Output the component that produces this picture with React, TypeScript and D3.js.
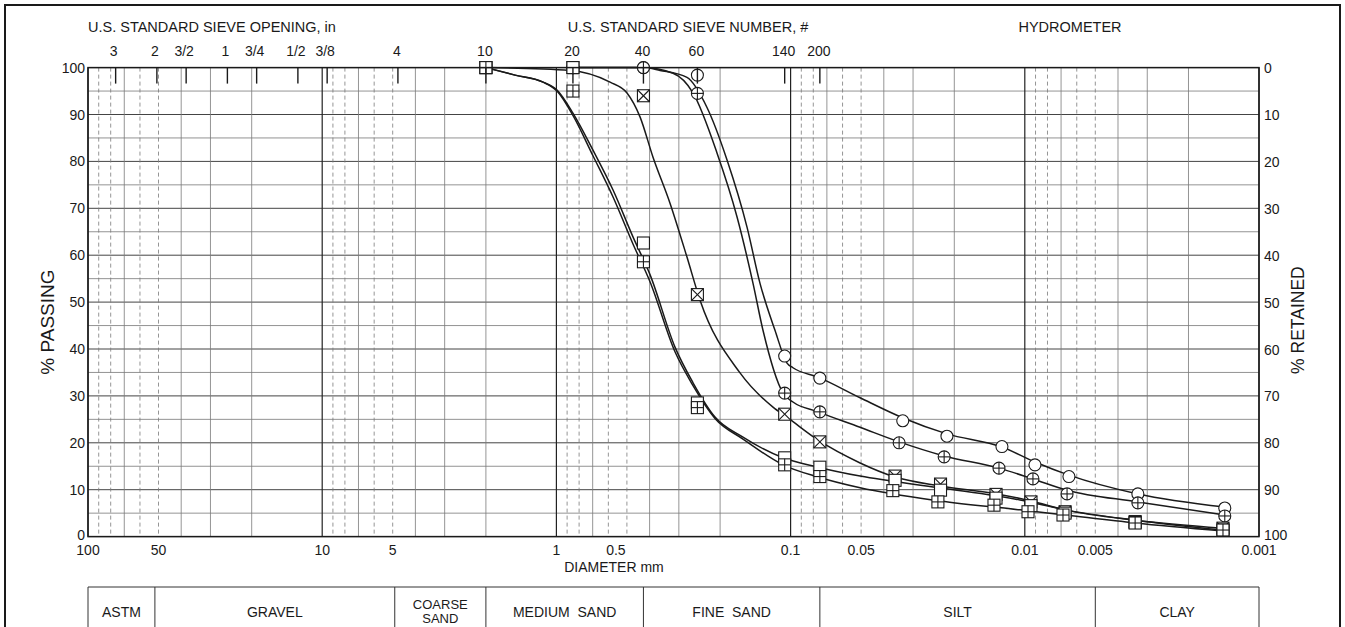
import React from "react";
import * as d3 from "d3";

// ---------- layout ----------
const W = 1345;
const H = 627;
const PL = 88, PR = 1259, PT = 67.6, PB = 536.6;
const FONT = "'Liberation Sans', Arial, Helvetica, sans-serif";

// ---------- axis data ----------
const sieveInchLabels = ["3", "2", "3/2", "1", "3/4", "1/2", "3/8"];
const sieveInchMm = [76.2, 50.8, 38.1, 25.4, 19.05, 12.7, 9.525];
const sieveNumLabels = ["4", "10", "20", "40", "60", "140", "200"];
const sieveNumMm = [4.75, 2.0, 0.85, 0.425, 0.25, 0.106, 0.075];

const diameterTicks = [100, 50, 10, 5, 1, 0.5, 0.1, 0.05, 0.01, 0.005, 0.001];
const diameterTickLabels = ["100", "50", "10", "5", "1", "0.5", "0.1", "0.05", "0.01", "0.005", "0.001"];
const passingTicks = [0, 10, 20, 30, 40, 50, 60, 70, 80, 90, 100];

const classBounds = [100, 51.8, 4.9, 2.0, 0.425, 0.075, 0.005, 0.001];
const classNames = [["ASTM"], ["GRAVEL"], ["COARSE", "SAND"], ["MEDIUM  SAND"], ["FINE  SAND"], ["SILT"], ["CLAY"]];

// ---------- series: measured points ----------
const circleDiam = [0.85, 0.425, 0.25, 0.106, 0.075, 0.0332, 0.0215, 0.01252, 0.00905, 0.00648, 0.00329, 0.0014];
const circlePass = [100, 100, 98.4, 38.5, 33.8, 24.7, 21.4, 19.2, 15.3, 12.8, 9.1, 6.1];

const circlePlusDiam = [0.85, 0.425, 0.25, 0.106, 0.075, 0.0344, 0.0221, 0.01289, 0.00923, 0.0066, 0.00329, 0.0014];
const circlePlusPass = [100, 100, 94.5, 30.6, 26.6, 20.0, 17.0, 14.6, 12.3, 9.1, 7.2, 4.4];

const boxXDiam = [2.0, 0.85, 0.425, 0.25, 0.106, 0.075, 0.0358, 0.0229, 0.01327, 0.00941, 0.00673, 0.00338, 0.001425];
const boxXPass = [100, 100, 94.0, 51.6, 26.1, 20.2, 12.9, 11.2, 9.0, 7.4, 5.3, 3.2, 1.8];

const boxDiam = [2.0, 0.85, 0.425, 0.25, 0.106, 0.075, 0.0358, 0.0229, 0.01327, 0.00941, 0.00673, 0.00338, 0.001425];
const boxPass = [100, 100, 62.6, 28.5, 16.8, 14.8, 12.0, 9.9, 8.2, 6.6, 5.0, 3.0, 1.4];

const boxPlusDiam = [2.0, 0.85, 0.425, 0.25, 0.106, 0.075, 0.0366, 0.0235, 0.01354, 0.00969, 0.00687, 0.00338, 0.001425];
const boxPlusPass = [100, 95.0, 58.6, 27.5, 15.3, 12.8, 9.8, 7.4, 6.7, 5.3, 4.6, 2.9, 1.4];

// ---------- series: fitted gradation curves ----------
const circleFitDiam = [0.85, 0.425, 0.361, 0.277, 0.2275, 0.1868, 0.1535, 0.1351, 0.1166, 0.1036, 0.0977, 0.0764, 0.0505, 0.0331, 0.0215, 0.01252, 0.00905, 0.00648, 0.00329, 0.0014];
const circleFitPass = [100, 100, 99.4, 97.9, 91.5, 80.3, 66.0, 54.0, 44.0, 37.0, 36.0, 34.0, 29.6, 25.3, 21.9, 19.1, 15.9, 13.1, 9.1, 6.3];

const circlePlusFitDiam = [0.85, 0.425, 0.3177, 0.261, 0.2062, 0.1694, 0.1447, 0.1312, 0.1077, 0.0977, 0.0764, 0.0505, 0.0344, 0.0221, 0.01289, 0.00923, 0.0066, 0.00329, 0.0014];
const circlePlusFitPass = [100, 100, 98.8, 94.6, 81.8, 68.2, 54.0, 44.0, 30.6, 28.7, 26.6, 23.3, 20.2, 17.2, 14.6, 12.3, 9.9, 7.4, 4.6];

const boxXFitDiam = [2.0, 0.875, 0.59, 0.4995, 0.4395, 0.3868, 0.3273, 0.277, 0.2436, 0.1644, 0.1189, 0.1026, 0.0764, 0.0505, 0.0358, 0.023, 0.01315, 0.00941, 0.00673, 0.00338, 0.001425];
const boxXFitPass = [100, 99.4, 96.9, 94.6, 89.5, 80.9, 71.1, 59.6, 50.4, 34.9, 27.6, 25.3, 20.6, 15.7, 12.7, 10.8, 9.1, 7.6, 5.7, 3.5, 1.8];

const boxFitDiam = [2.0, 1.502, 1.14, 0.994, 0.85, 0.698, 0.573, 0.471, 0.398, 0.3116, 0.261, 0.2103, 0.1597, 0.1077, 0.0764, 0.0505, 0.023, 0.01048, 0.00673, 0.00338, 0.001425];
const boxFitPass = [100, 98.4, 96.9, 95.2, 90.3, 82.4, 73.9, 63.9, 55.8, 40.4, 32.8, 25.5, 21.2, 16.8, 14.8, 12.9, 10.4, 7.8, 5.7, 3.5, 1.4];

const boxPlusFitDiam = [2.0, 1.502, 1.14, 0.994, 0.85, 0.698, 0.573, 0.471, 0.398, 0.3116, 0.261, 0.2103, 0.1597, 0.1077, 0.0764, 0.0505, 0.023, 0.01048, 0.00673, 0.00338, 0.001425];
const boxPlusFitPass = [100, 98.4, 96.9, 95.0, 89.8, 81.2, 72.4, 62.4, 54.3, 39.4, 32.2, 25.2, 20.8, 15.3, 12.7, 10.4, 7.6, 5.7, 4.6, 2.9, 1.2];

type Kind = "circle" | "circlePlus" | "boxX" | "box" | "boxPlus";
const seriesList: { kind: Kind; diam: number[]; pass: number[]; fitDiam: number[]; fitPass: number[] }[] = [
  { kind: "circle", diam: circleDiam, pass: circlePass, fitDiam: circleFitDiam, fitPass: circleFitPass },
  { kind: "circlePlus", diam: circlePlusDiam, pass: circlePlusPass, fitDiam: circlePlusFitDiam, fitPass: circlePlusFitPass },
  { kind: "boxX", diam: boxXDiam, pass: boxXPass, fitDiam: boxXFitDiam, fitPass: boxXFitPass },
  { kind: "box", diam: boxDiam, pass: boxPass, fitDiam: boxFitDiam, fitPass: boxFitPass },
  { kind: "boxPlus", diam: boxPlusDiam, pass: boxPlusPass, fitDiam: boxPlusFitDiam, fitPass: boxPlusFitPass },
];

const INK = "#1a1a1a";

function Marker({ kind, cx, cy }: { kind: Kind; cx: number; cy: number }) {
  const r = 6;
  const s = 6;
  const st = { stroke: INK, strokeWidth: 1.1, fill: "#fff" };
  if (kind === "circle") return <circle cx={cx} cy={cy} r={r} {...st} />;
  if (kind === "circlePlus")
    return (
      <g {...st}>
        <circle cx={cx} cy={cy} r={r} />
        <line x1={cx - r} x2={cx + r} y1={cy} y2={cy} />
        <line x1={cx} x2={cx} y1={cy - r} y2={cy + r} />
      </g>
    );
  const rect = <rect x={cx - s} y={cy - s} width={2 * s} height={2 * s} />;
  if (kind === "box") return <g {...st}>{rect}</g>;
  if (kind === "boxX")
    return (
      <g {...st}>
        {rect}
        <line x1={cx - s} y1={cy - s} x2={cx + s} y2={cy + s} />
        <line x1={cx - s} y1={cy + s} x2={cx + s} y2={cy - s} />
      </g>
    );
  return (
    <g {...st}>
      {rect}
      <line x1={cx - s} x2={cx + s} y1={cy} y2={cy} />
      <line x1={cx} x2={cx} y1={cy - s} y2={cy + s} />
    </g>
  );
}

export default function App() {
  const x = d3.scaleLog().domain([100, 0.001]).range([PL, PR]);
  const y = d3.scaleLinear().domain([0, 100]).range([PB, PT]);

  const vTicks = x.ticks();
  const mant = (v: number) => Math.round(v / Math.pow(10, Math.floor(Math.log10(v) + 1e-9)));
  const hTicks = y.ticks(20);

  const line = d3
    .line<[number, number]>()
    .x((d) => x(d[0]))
    .y((d) => y(d[1]))
    .curve(d3.curveMonotoneX);

  const tableTop = 587;
  const tableBottom = 645;

  return (
    <svg
      width={W}
      height={H}
      style={{ position: "absolute", left: 0, top: 0, background: "#fff", fontFamily: FONT }}
    >
      <rect x={0} y={0} width={W} height={H} fill="#fff" />
      {/* outer frame */}
      <rect x={5} y={5} width={1335} height={650} fill="none" stroke={INK} strokeWidth={2} />

      {/* titles */}
      <g fontSize={14.5} fill={INK}>
        <text x={PL} y={32}>U.S. STANDARD SIEVE OPENING, in</text>
        <text x={688} y={32} textAnchor="middle">U.S. STANDARD SIEVE NUMBER, #</text>
        <text x={1070} y={32} textAnchor="middle">HYDROMETER</text>
      </g>

      {/* horizontal grid */}
      {hTicks.map((t) => (
        <line
          key={"h" + t}
          x1={PL}
          x2={PR}
          y1={y(t)}
          y2={y(t)}
          stroke={t % 10 === 0 ? "#444" : "#777"}
          strokeWidth={t % 10 === 0 ? 1 : 0.8}
        />
      ))}
      {/* vertical grid */}
      {vTicks.map((t) => {
        const m = mant(t);
        const decade = m === 1 || m === 10;
        const dashed = [5, 6, 8, 9].includes(m);
        return (
          <line
            key={"v" + t}
            x1={x(t)}
            x2={x(t)}
            y1={PT}
            y2={PB}
            stroke={decade ? "#222" : "#7a7a7a"}
            strokeWidth={decade ? 1.2 : 0.8}
            strokeDasharray={dashed ? "4,3" : undefined}
          />
        );
      })}

      {/* fitted curves */}
      {seriesList.map((s, i) => (
        <path
          key={"c" + i}
          d={line(s.fitDiam.map((d, j) => [d, s.fitPass[j]] as [number, number])) || ""}
          fill="none"
          stroke={INK}
          strokeWidth={1.5}
        />
      ))}

      {/* markers */}
      {seriesList.map((s, i) => (
        <g key={"m" + i}>
          {s.diam.map((d, j) => (
            <Marker key={j} kind={s.kind} cx={x(d)} cy={y(s.pass[j])} />
          ))}
        </g>
      ))}

      {/* sieve ticks at top */}
      {[...sieveInchMm, ...sieveNumMm].map((d, i) => (
        <line key={"st" + i} x1={x(d)} x2={x(d)} y1={PT} y2={PT + 16} stroke={INK} strokeWidth={1.4} />
      ))}
      <g fontSize={14} fill={INK} textAnchor="middle">
        {sieveInchMm.map((d, i) => (
          <text key={"si" + i} x={x(d) - 2} y={56}>{sieveInchLabels[i]}</text>
        ))}
        {sieveNumMm.map((d, i) => (
          <text key={"sn" + i} x={x(d) - 1} y={56}>{sieveNumLabels[i]}</text>
        ))}
      </g>

      {/* plot border */}
      <rect x={PL} y={PT} width={PR - PL} height={PB - PT} fill="none" stroke={INK} strokeWidth={1.5} />

      {/* left axis */}
      <g fontSize={14} fill={INK} textAnchor="end">
        {passingTicks.map((t) => (
          <text key={"l" + t} x={PL - 3} y={y(t) + (t === 0 ? 3.5 : 5)}>{t}</text>
        ))}
      </g>
      <text
        transform={`translate(54,${(PT + PB) / 2 + 20}) rotate(-90)`}
        fontSize={19}
        fill={INK}
        textAnchor="middle"
      >
        % PASSING
      </text>

      {/* right axis */}
      <g fontSize={14} fill={INK} textAnchor="start">
        {passingTicks.map((t) => (
          <text key={"r" + t} x={PR + 5} y={y(t) + (t === 0 ? 3.5 : 5.5)}>{100 - t}</text>
        ))}
      </g>
      <text
        transform={`translate(1304,${(PT + PB) / 2 + 18}) rotate(-90)`}
        fontSize={17.5}
        fill={INK}
        textAnchor="middle"
      >
        % RETAINED
      </text>

      {/* bottom axis */}
      <g fontSize={14} fill={INK} textAnchor="middle">
        {diameterTicks.map((t, i) => (
          <text key={"b" + t} x={x(t) + (t === 0.5 ? -11 : 0)} y={554.5}>{diameterTickLabels[i]}</text>
        ))}
      </g>
      <text x={614} y={571.5} fontSize={14} fill={INK} textAnchor="middle">DIAMETER mm</text>

      {/* classification table */}
      <g stroke="#333" strokeWidth={1}>
        <line x1={x(classBounds[0])} x2={x(classBounds[classBounds.length - 1])} y1={tableTop} y2={tableTop} />
        {classBounds.map((b, i) => (
          <line key={"tb" + i} x1={x(b)} x2={x(b)} y1={tableTop} y2={tableBottom} />
        ))}
      </g>
      <g fontSize={14} fill={INK} textAnchor="middle">
        {classNames.map((name, i) => {
          const cx = (x(classBounds[i]) + x(classBounds[i + 1])) / 2;
          if (name.length === 1)
            return (
              <text key={"tn" + i} x={cx} y={617} style={{ whiteSpace: "pre" }}>
                {name[0]}
              </text>
            );
          return (
            <g key={"tn" + i} fontSize={13}>
              <text x={cx} y={609}>{name[0]}</text>
              <text x={cx} y={623}>{name[1]}</text>
            </g>
          );
        })}
      </g>
    </svg>
  );
}
